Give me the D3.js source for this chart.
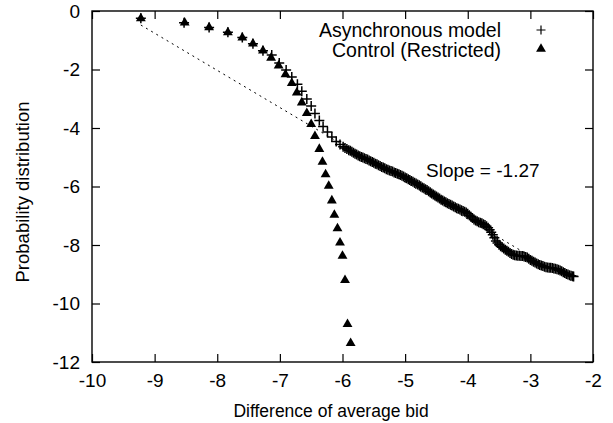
<!DOCTYPE html>
<html>
<head>
<meta charset="utf-8">
<script src="https://cdn.jsdelivr.net/npm/d3@7"></script>
<style>
  body { margin: 0; background: #fff; }
  text { font-family: "Liberation Sans", Arial, Helvetica, sans-serif; fill: #000; }
</style>
</head>
<body>
<div id="chart"></div>
<script>
// Asynchronous model (+)
const asyncX = [-9.22, -8.53, -8.13, -7.83, -7.60, -7.43, -7.27, -7.13, -7.01, -6.90, -6.81, -6.72,
  -6.65, -6.57, -6.50, -6.44, -6.37, -6.31, -6.24, -6.17, -6.10, -6.04, -5.99, -5.96, -5.93,
  -5.900, -5.875, -5.850, -5.825, -5.800, -5.775, -5.750, -5.725, -5.700, -5.675, -5.650, -5.625,
  -5.600, -5.575, -5.550, -5.525, -5.500, -5.475, -5.450, -5.425, -5.400, -5.375, -5.350, -5.325,
  -5.300, -5.275, -5.250, -5.225, -5.200, -5.175, -5.150, -5.125, -5.100, -5.075, -5.050, -5.025,
  -5.000, -4.975, -4.950, -4.925, -4.900, -4.875, -4.850, -4.825, -4.800, -4.775, -4.750, -4.725,
  -4.700, -4.675, -4.650, -4.625, -4.600, -4.575, -4.550, -4.525, -4.500, -4.475, -4.450, -4.425,
  -4.400, -4.375, -4.350, -4.325, -4.300, -4.275, -4.250, -4.225, -4.200, -4.175, -4.150, -4.125,
  -4.100, -4.075, -4.050, -4.025, -4.000, -3.975, -3.950, -3.925, -3.900, -3.875, -3.850, -3.825,
  -3.800, -3.775, -3.750, -3.725, -3.700, -3.675, -3.650, -3.625, -3.600, -3.575, -3.550, -3.525,
  -3.500, -3.475, -3.450, -3.425, -3.400, -3.375, -3.350, -3.325, -3.300, -3.275, -3.250, -3.225,
  -3.200, -3.175, -3.150, -3.125, -3.100, -3.075, -3.050, -3.025, -3.000, -2.975, -2.950, -2.925,
  -2.900, -2.875, -2.850, -2.825, -2.800, -2.775, -2.750, -2.725, -2.700, -2.675, -2.650, -2.625,
  -2.600, -2.575, -2.550, -2.525, -2.500, -2.475, -2.450, -2.425, -2.400, -2.375, -2.350, -2.325,
  -2.310];
const asyncY = [-0.25, -0.40, -0.56, -0.73, -0.91, -1.12, -1.36, -1.50, -1.78, -2.02, -2.26, -2.50,
  -2.74, -3.01, -3.25, -3.50, -3.74, -3.95, -4.14, -4.31, -4.46, -4.56, -4.64, -4.68, -4.72,
  -4.76, -4.78, -4.81, -4.85, -4.88, -4.91, -4.94, -4.97, -4.99, -5.01, -5.03, -5.06,
  -5.08, -5.11, -5.14, -5.16, -5.19, -5.22, -5.24, -5.27, -5.30, -5.33, -5.35, -5.38,
  -5.41, -5.43, -5.45, -5.47, -5.49, -5.52, -5.54, -5.56, -5.58, -5.61, -5.63, -5.66,
  -5.69, -5.72, -5.75, -5.78, -5.81, -5.84, -5.87, -5.90, -5.93, -5.96, -5.99, -6.03,
  -6.06, -6.09, -6.12, -6.16, -6.20, -6.24, -6.27, -6.31, -6.34, -6.38, -6.41, -6.45,
  -6.48, -6.51, -6.54, -6.57, -6.60, -6.62, -6.65, -6.68, -6.71, -6.74, -6.76, -6.79,
  -6.81, -6.84, -6.86, -6.89, -6.93, -6.98, -7.03, -7.08, -7.13, -7.16, -7.19, -7.22,
  -7.24, -7.26, -7.29, -7.32, -7.36, -7.41, -7.48, -7.56, -7.65, -7.75, -7.86, -7.93,
  -7.99, -8.04, -8.08, -8.12, -8.16, -8.20, -8.23, -8.27, -8.31, -8.33, -8.35, -8.36,
  -8.37, -8.37, -8.38, -8.38, -8.39, -8.41, -8.43, -8.47, -8.51, -8.54, -8.57, -8.60,
  -8.63, -8.66, -8.68, -8.70, -8.72, -8.74, -8.76, -8.77, -8.78, -8.78, -8.79, -8.80,
  -8.81, -8.83, -8.85, -8.87, -8.90, -8.93, -8.96, -8.99, -9.01, -9.03, -9.05, -9.07,
  -9.08];

// Control (Restricted) (filled triangles)
const controlX = [-9.22, -8.52, -8.13, -7.83, -7.60, -7.43, -7.27, -7.14, -7.02, -6.91, -6.81, -6.73,
  -6.65, -6.57, -6.50, -6.44, -6.37, -6.32, -6.27, -6.22, -6.17, -6.13, -6.08, -6.04,
  -6.00, -5.96, -5.92, -5.87];
const controlY = [-0.25, -0.40, -0.56, -0.73, -0.91, -1.12, -1.36, -1.60, -1.87, -2.17, -2.47, -2.79,
  -3.13, -3.49, -3.87, -4.28, -4.72, -5.16, -5.59, -5.98, -6.48, -6.97, -7.43, -7.92,
  -8.37, -9.20, -10.71, -11.36];

// fitted power law, slope -1.27
const fitX = [-9.22, -2.31];
const fitY = [-0.48, -9.26];

const xTicks = [-10, -9, -8, -7, -6, -5, -4, -3, -2];
const yTicks = [0, -2, -4, -6, -8, -10, -12];

const width = 613, height = 423;
const margin = { top: 11, right: 20, bottom: 61, left: 92 };
const w = width - margin.left - margin.right;
const h = height - margin.top - margin.bottom;

const svg = d3.select('#chart').append('svg')
  .attr('width', width)
  .attr('height', height);

const g = svg.append('g')
  .attr('transform', `translate(${margin.left},${margin.top})`);

const x = d3.scaleLinear().domain([-10, -2]).range([0, w]);
const y = d3.scaleLinear().domain([-12, 0]).range([h, 0]);

// plain hyphen minus, like gnuplot
const fmt = d => String(d);

// inward ticks on all four sides
const tick = 8;
g.append('g').attr('transform', `translate(0,${h})`)
  .call(d3.axisBottom(x).tickValues(xTicks).tickSizeInner(-tick).tickSizeOuter(0).tickPadding(12).tickFormat(fmt));
g.append('g')
  .call(d3.axisTop(x).tickValues(xTicks).tickSizeInner(-tick).tickSizeOuter(0).tickFormat(''));
g.append('g')
  .call(d3.axisLeft(y).tickValues(yTicks).tickSizeInner(-tick).tickSizeOuter(0).tickPadding(12).tickFormat(fmt));
g.append('g').attr('transform', `translate(${w},0)`)
  .call(d3.axisRight(y).tickValues(yTicks).tickSizeInner(-tick).tickSizeOuter(0).tickFormat(''));

g.selectAll('.domain').remove();
g.selectAll('.tick line').attr('stroke', '#000').attr('stroke-width', 1.2);
g.selectAll('.tick text').style('font-size', '19px').attr('fill', '#000');

g.append('rect')
  .attr('width', w).attr('height', h)
  .attr('fill', 'none').attr('stroke', '#000').attr('stroke-width', 1.4);

// fit line
const fit = fitX.map((d, i) => [d, fitY[i]]);
g.append('path')
  .datum(fit)
  .attr('fill', 'none')
  .attr('stroke', '#000')
  .attr('stroke-width', 1)
  .attr('stroke-dasharray', '2,4')
  .attr('d', d3.line().x(d => x(d[0])).y(d => y(d[1])));

const crossPath = 'M-5,0H5M0,-5V5';
const tri = d3.symbol().type(d3.symbolTriangle).size(42);

const asyncData = asyncX.map((d, i) => [d, asyncY[i]]);
g.append('g').selectAll('path')
  .data(asyncData)
  .join('path')
  .attr('transform', d => `translate(${x(d[0])},${y(d[1])})`)
  .attr('d', crossPath)
  .attr('stroke', '#000')
  .attr('stroke-width', 1.5)
  .attr('fill', 'none');

const controlData = controlX.map((d, i) => [d, controlY[i]]);
g.append('g').selectAll('path')
  .data(controlData)
  .join('path')
  .attr('transform', d => `translate(${x(d[0])},${y(d[1])})`)
  .attr('d', tri)
  .attr('fill', '#000');

// legend
const legend = g.append('g');
legend.append('text')
  .attr('x', 409).attr('y', 25.5)
  .attr('text-anchor', 'end')
  .style('font-size', '19.5px')
  .text('Asynchronous model');
legend.append('path')
  .attr('transform', 'translate(449,19)')
  .attr('d', 'M-4.5,0H4.5M0,-4.5V4.5')
  .attr('stroke', '#000').attr('stroke-width', 1.2);
legend.append('text')
  .attr('x', 409).attr('y', 45.5)
  .attr('text-anchor', 'end')
  .style('font-size', '19.5px')
  .text('Control (Restricted)');
legend.append('path')
  .attr('transform', 'translate(449,38)')
  .attr('d', tri)
  .attr('fill', '#000');

g.append('text')
  .attr('x', 334).attr('y', 165.5)
  .style('font-size', '19px')
  .text('Slope = -1.27');

// axis titles
svg.append('text')
  .attr('x', 331).attr('y', 417)
  .attr('text-anchor', 'middle')
  .style('font-size', '17.5px')
  .text('Difference of average bid');
svg.append('text')
  .attr('transform', 'translate(29,192) rotate(-90)')
  .attr('text-anchor', 'middle')
  .style('font-size', '18.5px')
  .text('Probability distribution');
</script>
</body>
</html>
